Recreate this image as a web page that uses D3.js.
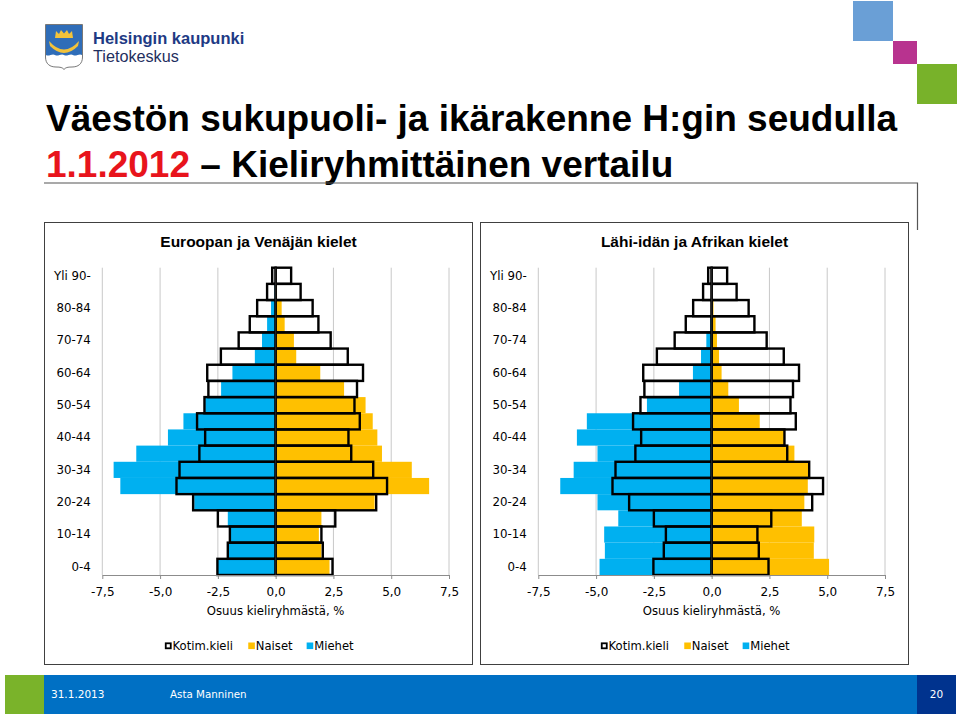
<!DOCTYPE html>
<html><head><meta charset="utf-8">
<script src="https://cdn.jsdelivr.net/npm/d3@7"></script>
<style>body{margin:0;background:#fff;} svg{display:block}</style>
</head><body>
<svg id="c" width="960" height="716"></svg>
<script>
// ---------- DATA ----------
const ageGroups = ["0-4","5-9","10-14","15-19","20-24","25-29","30-34","35-39","40-44","45-49","50-54","55-59","60-64","65-69","70-74","75-79","80-84","85-89","Yli 90-"];
const ageTickLabels = ["0-4","10-14","20-24","30-34","40-44","50-54","60-64","70-74","80-84","Yli 90-"];
const xTickValues = [-7.5,-5,-2.5,0,2.5,5,7.5];
// Kotim.kieli (domestic language), same in both panels
const kotimMen   = [-2.52,-2.07,-1.98,-2.50,-3.57,-4.29,-4.16,-3.30,-3.05,-3.40,-3.08,-2.91,-2.96,-2.37,-1.60,-1.12,-0.80,-0.37,-0.15];
const kotimWomen = [2.46,2.04,1.98,2.58,4.35,4.82,4.22,3.27,3.15,3.64,3.41,3.52,3.78,3.12,2.38,1.85,1.60,1.08,0.67];
// Euroopan ja Venäjän kielet
const eurMen   = [-2.53,-2.07,-1.98,-2.07,-3.52,-6.72,-7.01,-6.03,-4.66,-3.99,-3.05,-2.36,-1.87,-0.90,-0.59,-0.37,-0.20,-0.05,-0.02];
const eurWomen = [2.33,1.98,1.87,1.98,4.28,6.64,5.89,4.60,4.40,4.20,3.89,2.96,1.93,0.89,0.79,0.39,0.26,0.06,0.03];
// Lähi-idän ja Afrikan kielet
const meaMen   = [-4.85,-4.62,-4.65,-4.04,-4.94,-6.55,-5.97,-4.94,-5.83,-5.40,-2.80,-1.41,-0.81,-0.46,-0.23,-0.06,-0.02,-0.01,0.00];
const meaWomen = [5.08,4.42,4.44,3.90,4.01,4.16,4.25,3.58,3.15,2.08,1.18,0.72,0.43,0.32,0.23,0.17,0.08,0.02,0.01];
const panelTitles = ["Euroopan ja Venäjän kielet","Lähi-idän ja Afrikan kielet"];
const legendLabels = ["Kotim.kieli","Naiset","Miehet"];
const axisTitle = "Osuus kieliryhmästä, %";

// ---------- STYLE ----------
const BLUE = "#00b0f0", YELLOW = "#ffc000";
const svg = d3.select("#c");
const fi = d3.formatLocale({decimal:",",thousands:" ",grouping:[3],currency:["","€"],minus:"-"});
const fmt = fi.format(".1f");

// ---------- HEADER ----------
// coat of arms (simplified)
const logo = svg.append("g");
logo.append("path").attr("d","M45.5,24.5 L82.5,24.5 L82.5,57 C82.5,64 78,67 72,67 C67.5,67 65.5,67.5 64,69.5 C62.5,67.5 60.5,67 56,67 C50,67 45.5,64 45.5,57 Z")
  .attr("fill","#fff").attr("stroke","#555").attr("stroke-width",0.8);
logo.append("path").attr("d","M46,25 L82,25 L82,55 C79,53 76,57 73,55 C70,53 67,57 64,55 C61,53 58,57 55,55 C52,53 49,57 46,55 Z")
  .attr("fill","#2f6db8");
logo.append("path").attr("d","M55,38 L56,31 L59,34 L61,30 L64,33.5 L67,30 L69,34 L72,31 L73,38 Z").attr("fill","#f2c23a");
logo.append("path").attr("d","M49,41 Q64,58 79,41 L78,46 Q64,60 50,46 Z").attr("fill","#f2c23a");
svg.append("text").attr("x",93).attr("y",44).text("Helsingin kaupunki")
  .attr("font-family","Liberation Sans, Arial, sans-serif").attr("font-weight","bold").attr("font-size",16.5).attr("fill","#1e3a84");
svg.append("text").attr("x",93).attr("y",61.5).text("Tietokeskus")
  .attr("font-family","Liberation Sans, Arial, sans-serif").attr("font-size",16.2).attr("fill","#1f2f60");

// decorative squares
svg.append("rect").attr("x",853).attr("y",1).attr("width",40).attr("height",40).attr("fill","#6a9fd6");
svg.append("rect").attr("x",893).attr("y",41).attr("width",24).attr("height",23).attr("fill","#b8338f");
svg.append("rect").attr("x",917).attr("y",64).attr("width",40).attr("height",40).attr("fill","#78b22a");

// titles
svg.append("text").attr("x",46).attr("y",131).text("Väestön sukupuoli- ja ikärakenne H:gin seudulla")
  .attr("font-family","Liberation Sans, Arial, sans-serif").attr("font-weight","bold").attr("font-size",37).attr("fill","#000");
const t2 = svg.append("text").attr("x",46).attr("y",177)
  .attr("font-family","Liberation Sans, Arial, sans-serif").attr("font-weight","bold").attr("font-size",37).attr("fill","#000");
t2.append("tspan").attr("fill","#e8141c").text("1.1.2012");
t2.append("tspan").text(" – Kieliryhmittäinen vertailu");
svg.append("path").attr("d","M44,183 H917.5 V230").attr("fill","none").attr("stroke","#555").attr("stroke-width",1.2);

// ---------- PANELS ----------
function panel(boxX, boxW, plotL, plotR, title, men, women) {
  const g = svg.append("g");
  g.append("rect").attr("x",boxX+0.5).attr("y",222.5).attr("width",boxW).attr("height",442)
    .attr("fill","#fff").attr("stroke","#404040").attr("stroke-width",1);
  const x = d3.scaleLinear().domain([-7.5,7.5]).range([plotL,plotR]);
  const y = d3.scaleBand().domain(ageGroups).range([575,267.7]).paddingInner(0).paddingOuter(0);
  const top = 267.7, bottom = 575;
  g.append("text").attr("x",boxX+boxW/2+0.5).attr("y",247).attr("text-anchor","middle").text(title)
    .attr("font-family","Liberation Sans, Arial, sans-serif").attr("font-weight","bold").attr("font-size",15.5).attr("fill","#000");
  // gridlines
  g.append("g").selectAll("line").data(xTickValues).join("line")
    .attr("x1",d=>x(d)).attr("x2",d=>x(d)).attr("y1",top).attr("y2",bottom)
    .attr("stroke","#c8c8c8").attr("stroke-width",1);
  // colored bars
  const rows = ageGroups.map((a,i)=>({a, m:men[i], w:women[i], km:kotimMen[i], kw:kotimWomen[i]}));
  g.append("g").selectAll("rect").data(rows).join("rect")
    .attr("x",d=>x(Math.min(0,d.m))).attr("width",d=>Math.abs(x(d.m)-x(0)))
    .attr("y",d=>y(d.a)).attr("height",y.bandwidth()).attr("fill",BLUE);
  g.append("g").selectAll("rect").data(rows).join("rect")
    .attr("x",x(0)).attr("width",d=>Math.abs(x(d.w)-x(0)))
    .attr("y",d=>y(d.a)).attr("height",y.bandwidth()).attr("fill",YELLOW);
  // kotim outlines
  g.append("g").selectAll("rect").data(rows).join("rect")
    .attr("x",d=>x(d.km)).attr("width",d=>x(0)-x(d.km))
    .attr("y",d=>y(d.a)).attr("height",y.bandwidth()).attr("fill","none").attr("stroke","#000").attr("stroke-width",2.4);
  g.append("g").selectAll("rect").data(rows).join("rect")
    .attr("x",x(0)).attr("width",d=>x(d.kw)-x(0))
    .attr("y",d=>y(d.a)).attr("height",y.bandwidth()).attr("fill","none").attr("stroke","#000").attr("stroke-width",2.4);
  // center axis
  g.append("line").attr("x1",x(0)).attr("x2",x(0)).attr("y1",top).attr("y2",bottom).attr("stroke","#222").attr("stroke-width",1.2);
  // bottom axis
  const ax = g.append("g").attr("transform",`translate(0,${bottom})`)
    .call(d3.axisBottom(x).tickValues(xTickValues).tickFormat(fmt).tickSizeInner(4).tickSizeOuter(0).tickPadding(8));
  ax.select(".domain").attr("stroke","#8c8c8c");
  ax.selectAll(".tick line").attr("stroke","#8c8c8c");
  ax.selectAll("text").attr("font-family","DejaVu Sans, sans-serif").attr("font-size",12).attr("fill","#000");
  // left axis labels
  const ay = g.append("g").attr("transform",`translate(${plotL},0)`)
    .call(d3.axisLeft(y).tickValues(ageTickLabels).tickSize(0).tickPadding(11.6));
  ay.select(".domain").remove();
  ay.selectAll("text").attr("font-family","DejaVu Sans, sans-serif").attr("font-size",11.8).attr("fill","#000");
  // axis title
  g.append("text").attr("x",x(0)).attr("y",615).attr("text-anchor","middle").text(axisTitle)
    .attr("font-family","DejaVu Sans, sans-serif").attr("font-size",11.7).attr("fill","#000");
  // legend
  const cx = x(0);
  const items = [
    {label:legendLabels[0], dx:-110.7, fill:"#fff", stroke:"#000"},
    {label:legendLabels[1], dx:-27.4, fill:YELLOW, stroke:"none"},
    {label:legendLabels[2], dx:31, fill:BLUE, stroke:"none"}
  ];
  const lg = g.append("g");
  items.forEach(it=>{
    lg.append("rect").attr("x",cx+it.dx+(it.stroke!=="none"?0.8:0)).attr("y",642.5+(it.stroke!=="none"?0.8:0))
      .attr("width",it.stroke!=="none"?5:6.6).attr("height",it.stroke!=="none"?5:6.6)
      .attr("fill",it.fill).attr("stroke",it.stroke).attr("stroke-width",it.stroke!=="none"?1.8:0);
    lg.append("text").attr("x",cx+it.dx+7.6).attr("y",650).text(it.label)
      .attr("font-family","DejaVu Sans, sans-serif").attr("font-size",11.6).attr("fill","#000");
  });
}
panel(44, 428, 102.3, 449, panelTitles[0], eurMen, eurWomen);
panel(480, 428, 538.3, 885, panelTitles[1], meaMen, meaWomen);

// ---------- FOOTER ----------
svg.append("rect").attr("x",5).attr("y",675).attr("width",39).attr("height",39).attr("fill","#7ab32a");
svg.append("rect").attr("x",44).attr("y",675).attr("width",873).attr("height",39).attr("fill","#0070c4");
svg.append("rect").attr("x",917).attr("y",675).attr("width",39).attr("height",39).attr("fill","#00338e");
const ff = "DejaVu Sans, sans-serif";
svg.append("text").attr("x",51).attr("y",698).text("31.1.2013").attr("font-family",ff).attr("font-size",10.5).attr("fill","#fff");
svg.append("text").attr("x",170).attr("y",698).text("Asta Manninen").attr("font-family",ff).attr("font-size",10.3).attr("fill","#fff");
svg.append("text").attr("x",936.5).attr("y",698).attr("text-anchor","middle").text("20").attr("font-family",ff).attr("font-size",10.5).attr("fill","#fff");
</script>
</body></html>
